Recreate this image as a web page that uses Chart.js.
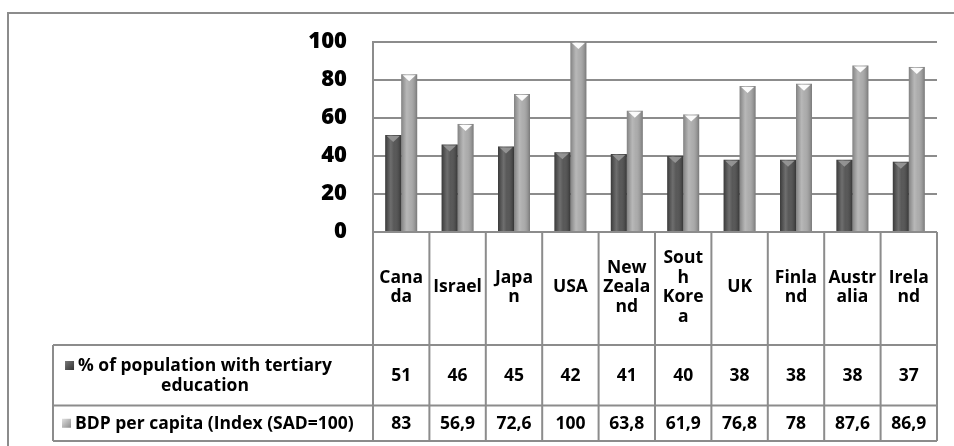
<!DOCTYPE html>
<html>
<head>
<meta charset="utf-8">
<script src="https://cdn.jsdelivr.net/npm/chart.js@4/dist/chart.umd.min.js"></script>
<style>
  html, body { margin: 0; padding: 0; background: #fff; }
  #wrap { width: 954px; height: 446px; }
</style>
</head>
<body>
<div id="wrap"><canvas id="c" width="954" height="446"></canvas></div>
<script>
// Category labels as they wrap inside the narrow table columns
const categories = [
  ["Cana", "da"], ["Israel"], ["Japa", "n"], ["USA"], ["New", "Zeala", "nd"],
  ["Sout", "h", "Kore", "a"], ["UK"], ["Finla", "nd"], ["Austr", "alia"], ["Irela", "nd"]
];
const seriesNames = [
  "% of population with tertiary education",
  "BDP per capita (Index (SAD=100)"
];
const tertiaryShare = [51, 46, 45, 42, 41, 40, 38, 38, 38, 37];
const gdpIndex = [83, 56.9, 72.6, 100, 63.8, 61.9, 76.8, 78, 87.6, 86.9];
const yTicks = [0, 20, 40, 60, 80, 100];

const FONT = "'Open Sans', sans-serif";
const TABLE_FONT = 'bold 17.5px ' + FONT;
const LINE = '#8c8c8c';
const barColors = ['#4a4a4a', '#a6a6a6'];
const capColors = ['rgba(150,150,150,0.95)', 'rgba(255,255,255,0.95)'];

function fmt(v) { return String(v).replace('.', ','); }

// Cylinder-like shading and a lighter cap on each bar
const barShading = {
  id: 'barShading',
  afterDatasetsDraw(chart) {
    const ctx = chart.ctx;
    chart.data.datasets.forEach((ds, di) => {
      const meta = chart.getDatasetMeta(di);
      meta.data.forEach(el => {
        const w = el.width, l = el.x - w / 2, top = el.y, h = el.base - el.y;
        const g = ctx.createLinearGradient(l, 0, l + w, 0);
        g.addColorStop(0, 'rgba(0,0,0,0.22)');
        g.addColorStop(0.35, 'rgba(255,255,255,0.20)');
        g.addColorStop(0.55, 'rgba(255,255,255,0.08)');
        g.addColorStop(1, 'rgba(0,0,0,0.28)');
        ctx.save();
        ctx.fillStyle = g;
        ctx.fillRect(l, top, w, h);
        ctx.beginPath();
        ctx.moveTo(l + 1.5, top + 1);
        ctx.lineTo(l + w - 1.5, top + 1);
        ctx.lineTo(el.x, top + 7);
        ctx.closePath();
        ctx.fillStyle = capColors[di];
        ctx.fill();
        ctx.restore();
      });
    });
  }
};

// Data table under the plot, plus the outer frame
const dataTable = {
  id: 'dataTable',
  beforeDraw(chart) {
    const ctx = chart.ctx;
    ctx.save();
    ctx.fillStyle = '#fff';
    ctx.fillRect(0, 0, chart.width, chart.height);
    ctx.restore();
  },
  afterDraw(chart) {
    const ctx = chart.ctx;
    const a = chart.chartArea;
    const x = chart.scales.x;
    const n = categories.length;
    const step = x.getPixelForValue(1) - x.getPixelForValue(0);
    const colLeft = i => x.getPixelForValue(i) - step / 2;
    const legendLeft = 53;
    const rows = [a.bottom, 345, 405.5, 441];

    ctx.save();
    ctx.strokeStyle = LINE;
    ctx.lineWidth = 2;
    ctx.beginPath();
    // horizontal rules
    ctx.moveTo(a.left, rows[0]); ctx.lineTo(a.right, rows[0]);
    for (let r = 1; r < rows.length; r++) {
      ctx.moveTo(legendLeft, rows[r]); ctx.lineTo(a.right, rows[r]);
    }
    // vertical rules
    for (let i = 0; i <= n; i++) {
      const px = i < n ? colLeft(i) : colLeft(n - 1) + step;
      ctx.moveTo(px, rows[0]); ctx.lineTo(px, rows[3]);
    }
    ctx.moveTo(legendLeft, rows[1]); ctx.lineTo(legendLeft, rows[3]);
    ctx.stroke();

    // outer frame
    ctx.beginPath();
    ctx.moveTo(8, 446); ctx.lineTo(8, 13); ctx.lineTo(954, 13);
    ctx.stroke();

    ctx.fillStyle = '#000';
    ctx.font = TABLE_FONT;
    ctx.textAlign = 'center';
    ctx.textBaseline = 'middle';

    // category header cells
    const lh = 19.5;
    const hMid = (rows[0] + rows[1]) / 2 - 1;
    categories.forEach((lines, i) => {
      const cx = x.getPixelForValue(i);
      const y0 = hMid - (lines.length - 1) * lh / 2;
      lines.forEach((t, k) => ctx.fillText(t, cx, y0 + k * lh));
    });

    // value rows
    const series = [tertiaryShare, gdpIndex];
    series.forEach((vals, s) => {
      const mid = (rows[s + 1] + rows[s + 2]) / 2;
      vals.forEach((v, i) => ctx.fillText(fmt(v), x.getPixelForValue(i), mid + 1));
    });

    // row headers with legend keys
    const maxW = 298;
    series.forEach((vals, s) => {
      const words = seriesNames[s].split(' ');
      const lines = [];
      let cur = '';
      words.forEach(wd => {
        const test = cur ? cur + ' ' + wd : wd;
        if (cur && ctx.measureText(test).width > maxW) { lines.push(cur); cur = wd; }
        else cur = test;
      });
      lines.push(cur);
      const mid = (rows[s + 1] + rows[s + 2]) / 2;
      const y0 = mid - (lines.length - 1) * lh / 2;
      lines.forEach((t, k) => {
        const w = ctx.measureText(t).width;
        const cx = Math.max(75 + w / 2, 205);
        const ty = y0 + k * lh;
        ctx.fillText(t, cx, ty + 1);
        if (k === 0) {
          const kx = cx - w / 2 - 13, ky = ty - 4.5;
          const g = ctx.createLinearGradient(kx, ky, kx + 9, ky + 9);
          if (s === 0) { g.addColorStop(0, '#777'); g.addColorStop(1, '#333'); }
          else { g.addColorStop(0, '#e0e0e0'); g.addColorStop(1, '#8c8c8c'); }
          ctx.fillStyle = g;
          ctx.fillRect(kx, ky, 9, 9);
          ctx.fillStyle = '#000';
        }
      });
    });
    ctx.restore();
  }
};

new Chart(document.getElementById('c'), {
  type: 'bar',
  data: {
    labels: categories,
    datasets: [
      { label: seriesNames[0], data: tertiaryShare, backgroundColor: barColors[0] },
      { label: seriesNames[1], data: gdpIndex, backgroundColor: barColors[1] }
    ]
  },
  options: {
    responsive: false,
    animation: false,
    layout: { padding: { left: 0, right: 17, top: 42, bottom: 214 } },
    datasets: { bar: { categoryPercentage: 0.567, barPercentage: 1.0 } },
    plugins: { legend: { display: false }, tooltip: { enabled: false } },
    scales: {
      x: { display: false },
      y: {
        min: 0, max: 100,
        afterFit(scale) { scale.width = 373; },
        afterBuildTicks(scale) { scale.ticks = yTicks.map(v => ({ value: v })); },
        ticks: { color: '#000', padding: 26, font: { family: FONT, size: 22, weight: '800' } },
        grid: { color: LINE, lineWidth: 2, drawTicks: false },
        border: { display: true, color: LINE, width: 2 }
      }
    }
  },
  plugins: [barShading, dataTable]
});
</script>
</body>
</html>
